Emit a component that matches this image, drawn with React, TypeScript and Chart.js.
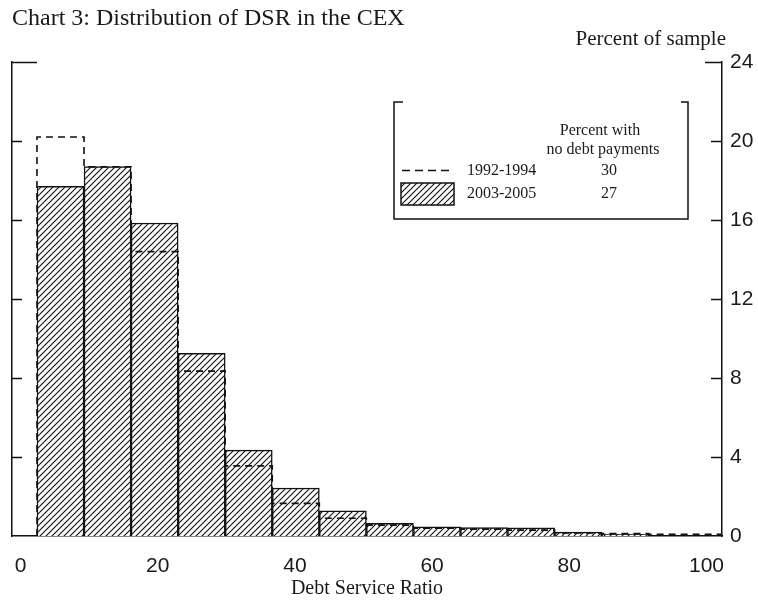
import React, { useEffect, useRef } from "react";
import { Chart, registerables } from "chart.js";

Chart.register(...registerables);

// Histogram bins (lower edges, in DSR units) and bin width
const binEdges = [2.4, 9.26, 16.12, 22.98, 29.84, 36.7, 43.56, 50.42, 57.28, 64.14, 71.0, 77.86, 84.72, 91.58];
const binWidth = 6.86;
const dashedEnd = 102.3;

// Percent of sample per bin
const share2003 = [17.7, 18.7, 15.85, 9.25, 4.35, 2.43, 1.28, 0.64, 0.47, 0.43, 0.42, 0.2, 0.1];
const share1992 = [20.2, 18.7, 14.4, 8.35, 3.55, 1.65, 0.9, 0.55, 0.4, 0.35, 0.3, 0.15, 0.12, 0.08];

const xTickValues = [0, 20, 40, 60, 80, 100];
const yTickValues = [0, 4, 8, 12, 16, 20, 24];

const seriesNames = ["1992-1994", "2003-2005"];
const noDebtPct = ["30", "27"];

const TEXT = "#1a1a1a";
const LINE = "#111111";

function makeHatch(): CanvasPattern | string {
  const c = document.createElement("canvas");
  c.width = 6;
  c.height = 6;
  const g = c.getContext("2d");
  if (!g) return "#ccc";
  g.fillStyle = "#ffffff";
  g.fillRect(0, 0, 6, 6);
  g.strokeStyle = "#111";
  g.lineWidth = 1.1;
  g.beginPath();
  g.moveTo(-1, 7);
  g.lineTo(7, -1);
  g.moveTo(-1, 1);
  g.lineTo(1, -1);
  g.moveTo(5, 7);
  g.lineTo(7, 5);
  g.stroke();
  return g.createPattern(c, "repeat") || "#ccc";
}

export default function App() {
  const ref = useRef<HTMLCanvasElement | null>(null);

  useEffect(() => {
    if (!ref.current) return;
    const hatch = makeHatch();

    const barData = share2003.map((v, i) => ({ x: binEdges[i] + binWidth / 2, y: v }));
    const lineData = [
      { x: binEdges[0], y: 0 },
      ...share1992.map((v, i) => ({ x: binEdges[i], y: v })),
      { x: dashedEnd, y: share1992[share1992.length - 1] },
    ];

    const decor = {
      id: "decor",
      afterDraw(chart: any) {
        const ctx = chart.ctx as CanvasRenderingContext2D;
        const area = chart.chartArea;
        const y = chart.scales.y;
        ctx.save();
        // inward tick marks on both vertical axes
        ctx.strokeStyle = LINE;
        ctx.lineWidth = 1.5;
        yTickValues.forEach((v) => {
          if (v === 0) return;
          const py = Math.round(y.getPixelForValue(v)) + 0.5;
          const top = v === 24;
          ctx.beginPath();
          ctx.moveTo(area.left, py);
          ctx.lineTo(area.left + (top ? 25 : 10), py);
          ctx.moveTo(area.right, py);
          ctx.lineTo(area.right - (top ? 17 : 11), py);
          ctx.stroke();
        });

        // title and unit label
        ctx.fillStyle = TEXT;
        ctx.textBaseline = "alphabetic";
        ctx.textAlign = "left";
        ctx.font = '24px "Liberation Serif", serif';
        ctx.fillText("Chart 3: Distribution of DSR in the CEX", 12, 25);
        ctx.textAlign = "right";
        ctx.font = '21px "Liberation Serif", serif';
        ctx.fillText("Percent of sample", 726, 45);

        // legend box
        const L = 394, R = 688, T = 102, B = 219;
        ctx.lineWidth = 1.5;
        ctx.beginPath();
        ctx.moveTo(L + 9, T);
        ctx.lineTo(L, T);
        ctx.lineTo(L, B);
        ctx.lineTo(R, B);
        ctx.lineTo(R, T);
        ctx.lineTo(R - 7, T);
        ctx.stroke();

        ctx.font = '16px "Liberation Serif", serif';
        ctx.textBaseline = "middle";
        ctx.textAlign = "center";
        ctx.fillText("Percent with", 600, 131);
        ctx.fillText("no debt payments", 603, 150);

        // row 1: dashed
        ctx.beginPath();
        ctx.setLineDash([8, 5]);
        ctx.moveTo(402, 170.5);
        ctx.lineTo(452, 170.5);
        ctx.stroke();
        ctx.setLineDash([]);
        ctx.textAlign = "left";
        ctx.fillText(seriesNames[0], 467, 171);
        ctx.textAlign = "center";
        ctx.fillText(noDebtPct[0], 609, 171);

        // row 2: hatched
        ctx.fillStyle = hatch as any;
        ctx.fillRect(401, 183, 53, 22);
        ctx.strokeRect(401, 183, 53, 22);
        ctx.fillStyle = TEXT;
        ctx.textAlign = "left";
        ctx.fillText(seriesNames[1], 467, 194);
        ctx.textAlign = "center";
        ctx.fillText(noDebtPct[1], 609, 194);
        ctx.restore();
      },
    };

    const chart = new Chart(ref.current, {
      type: "bar",
      data: {
        datasets: [
          {
            type: "line",
            label: seriesNames[0],
            data: lineData,
            stepped: "before",
            borderColor: LINE,
            borderWidth: 1.6,
            borderDash: [7, 5],
            pointRadius: 0,
            fill: false,
            order: 0,
            yAxisID: "y",
          } as any,
          {
            type: "bar",
            label: seriesNames[1],
            data: barData,
            backgroundColor: hatch as any,
            borderColor: LINE,
            borderWidth: 1.5,
            categoryPercentage: 1,
            barPercentage: 1,
            order: 1,
            yAxisID: "y",
          } as any,
        ],
      },
      options: {
        animation: false,
        responsive: false,
        devicePixelRatio: 1,
        layout: { padding: { left: 12, right: 0, top: 62, bottom: 0 } },
        plugins: {
          legend: { display: false },
          tooltip: { enabled: false },
          title: { display: false },
        },
        scales: {
          x: {
            type: "linear",
            offset: false,
            min: -1.24,
            max: 102.26,
            afterBuildTicks: (s: any) => {
              s.ticks = xTickValues.map((v) => ({ value: v }));
            },
            afterFit: (s: any) => {
              s.height = 65;
            },
            grid: { display: false, drawTicks: true, tickLength: 16, offset: false },
            border: { display: true, color: LINE, width: 1.5 },
            ticks: {
              font: { family: '"Liberation Sans", Arial, sans-serif', size: 21 },
              color: TEXT,
              padding: 2,
              maxRotation: 0,
              autoSkip: false,
            },
            title: {
              display: true,
              text: "Debt Service Ratio",
              font: { family: '"Liberation Serif", serif', size: 20 },
              color: TEXT,
              padding: { top: 0, bottom: 0 },
            },
          },
          y: {
            type: "linear",
            position: "right",
            min: 0,
            max: 24,
            afterFit: (s: any) => {
              s.width = 36;
            },
            grid: { display: false, drawTicks: false },
            border: { display: true, color: LINE, width: 1.5 },
            ticks: {
              stepSize: 4,
              font: { family: '"Liberation Sans", Arial, sans-serif', size: 21 },
              color: TEXT,
              padding: 8,
            },
          },
          yL: {
            type: "linear",
            position: "left",
            min: 0,
            max: 24,
            afterFit: (s: any) => {
              s.width = 0;
            },
            grid: { display: false, drawTicks: false },
            border: { display: true, color: LINE, width: 1.5 },
            ticks: { display: false },
          },
        },
      } as any,
      plugins: [decor],
    });

    return () => chart.destroy();
  }, []);

  return (
    <div style={{ position: "fixed", left: 0, top: 0, width: 758, height: 601, background: "#fff" }}>
      <canvas ref={ref} width={758} height={601} style={{ display: "block" }} />
    </div>
  );
}
